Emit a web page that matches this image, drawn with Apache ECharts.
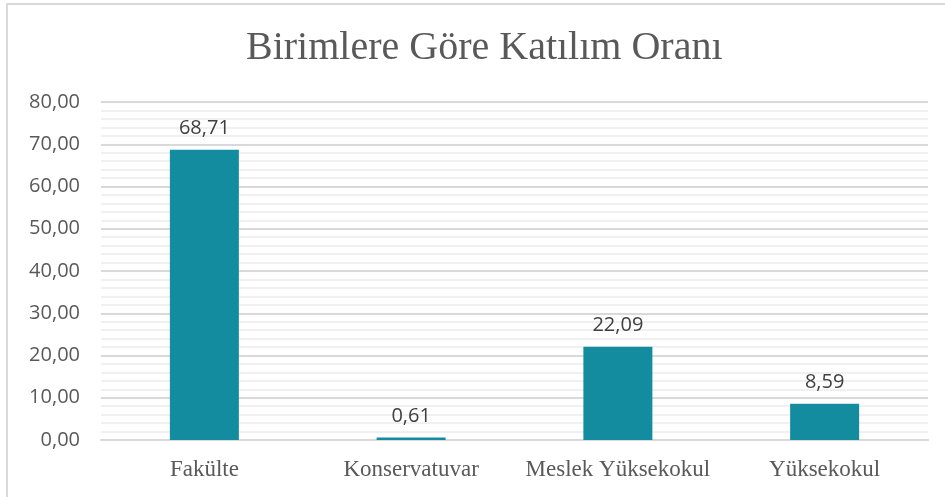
<!DOCTYPE html>
<html>
<head>
<meta charset="utf-8">
<script src="https://cdn.jsdelivr.net/npm/echarts@6/dist/echarts.min.js"></script>
<style>
  html, body { margin: 0; padding: 0; background: #fff; }
  #chart { width: 945px; height: 497px; }
</style>
</head>
<body>
<div id="chart"></div>
<script>
var categories = ['Fakülte', 'Konservatuvar', 'Meslek Yüksekokul', 'Yüksekokul'];
var rates = [68.71, 0.61, 22.09, 8.59];
var yTicks = [0, 10, 20, 30, 40, 50, 60, 70, 80];

var fmt = function (v) { return v.toFixed(2).replace('.', ','); };

var chart = echarts.init(document.getElementById('chart'));
chart.setOption({
  animation: false,
  backgroundColor: '#ffffff',
  graphic: [{
    type: 'rect',
    shape: { x: 7, y: 4, width: 960, height: 520 },
    style: { fill: 'none', stroke: '#d9d9d9', lineWidth: 2 },
    silent: true
  }],
  title: {
    text: 'Birimlere Göre Katılım Oranı',
    left: 241,
    top: 23,
    textStyle: {
      fontFamily: 'Liberation Serif',
      fontWeight: 'normal',
      fontSize: 40,
      color: '#595959'
    }
  },
  grid: { left: 101, right: 17, top: 102, bottom: 57, containLabel: false },
  xAxis: {
    type: 'category',
    data: categories,
    axisLine: { lineStyle: { color: '#d9d9d9', width: 2 } },
    axisTick: { show: false },
    axisLabel: {
      interval: 0,
      fontFamily: 'Liberation Serif',
      fontSize: 23,
      color: '#595959',
      margin: 18
    }
  },
  yAxis: {
    type: 'value',
    min: yTicks[0],
    max: yTicks[yTicks.length - 1],
    interval: 10,
    axisLine: { show: false },
    axisTick: { show: false },
    axisLabel: {
      fontFamily: 'Open Sans',
      fontSize: 20,
      color: '#595959',
      margin: 21,
      formatter: fmt
    },
    splitLine: { lineStyle: { color: '#d9d9d9', width: 2 } },
    minorTick: { show: false, splitNumber: 5 },
    minorSplitLine: { show: true, lineStyle: { color: '#f0f0f0', width: 2 } }
  },
  series: [{
    type: 'bar',
    data: rates,
    barWidth: 69,
    itemStyle: { color: '#148c9f' },
    label: {
      show: true,
      position: 'top',
      distance: 11,
      fontFamily: 'Open Sans',
      fontSize: 20,
      color: '#404040',
      formatter: function (p) { return fmt(p.value); }
    }
  }]
});
</script>
</body>
</html>
